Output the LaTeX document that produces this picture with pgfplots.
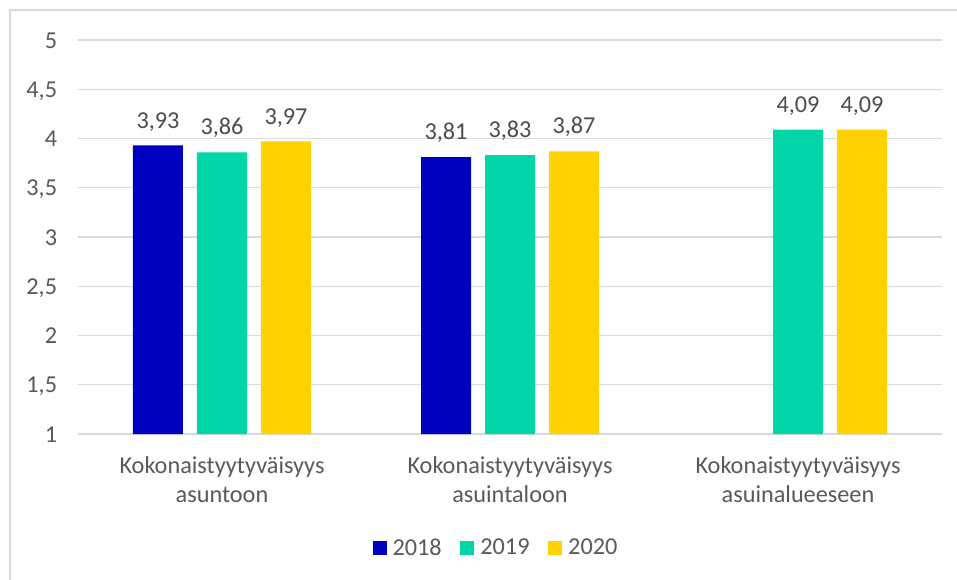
\documentclass[border=0pt]{standalone}
\usepackage{pgfplots}
\pgfplotsset{compat=1.18}
\usepackage{fontspec}
\setmainfont{Carlito}
\definecolor{c2018}{HTML}{0000C0}
\definecolor{c2019}{HTML}{00D6A8}
\definecolor{c2020}{HTML}{FFD200}
\definecolor{txt}{HTML}{595959}
\definecolor{gridc}{HTML}{D9D9D9}
\newcommand{\fs}{\fontsize{18.2}{21.75}\selectfont}
\begin{document}
\begin{tikzpicture}
\useasboundingbox (-58.5pt,-108.75pt) rectangle (659.25pt,325.5pt);
\draw[gridc, line width=0.9pt] (-51pt,-110pt) -- (-51pt,318pt) -- (662pt,318pt);
\begin{axis}[
  scale only axis,
  width=648pt,
  height=295.5pt,
  xmin=-0.5, xmax=2.5,
  ymin=1, ymax=5,
  ytick={1,1.5,2,2.5,3,3.5,4,4.5,5},
  xtick={0,1,2},
  xticklabels={Kokonaistyytyväisyys\\asuntoon,Kokonaistyytyväisyys\\asuintaloon,Kokonaistyytyväisyys\\asuinalueeseen},
  ybar=10.5pt,
  bar width=37.5pt,
  ymajorgrids,
  grid style={gridc, line width=0.9pt},
  axis line style={draw=none},
  major tick length=0pt,
  /pgf/number format/assume math mode=true,
  /pgf/number format/use comma,
  yticklabel style={font=\fs, color=txt, anchor=base east, inner sep=0pt, xshift=-15.5pt, yshift=-6pt},
  xticklabel style={font=\fs, color=txt, align=center, anchor=north, inner sep=0pt, yshift=-17pt},
  nodes near coords,
  every node near coord/.append style={font=\fs, color=txt!85!black, anchor=base, inner sep=0pt, yshift=13pt},
  legend columns=-1,
  legend style={at={(0.4826,-0.2893)}, anchor=center, draw=none, fill=none, font=\fs, text=txt,
    nodes={inner sep=0pt},
    /tikz/every odd column/.append style={column sep=4.5pt},
    /tikz/every even column/.append style={column sep=14pt}},
  legend image code/.code={\fill[#1] (0pt,-5.25pt) rectangle (10.5pt,5.25pt);},
]
\addplot[fill=c2018, draw=none] coordinates {(0,3.93) (1,3.81)};
\addplot[fill=c2019, draw=none] coordinates {(0,3.86) (1,3.83) (2,4.09)};
\addplot[fill=c2020, draw=none] coordinates {(0,3.97) (1,3.87) (2,4.09)};
\legend{2018,2019,2020}
\end{axis}
\end{tikzpicture}
\end{document}
